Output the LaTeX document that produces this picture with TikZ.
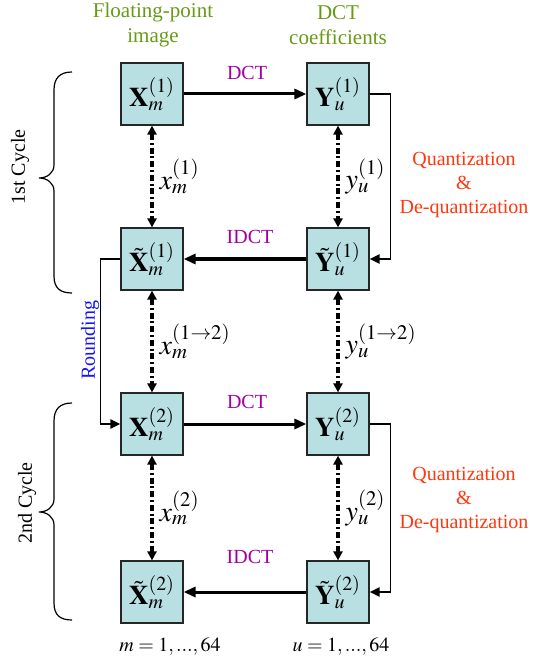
\documentclass[tikz,border=0pt]{standalone}
\usepackage{mathptmx}
\usepackage{fontspec}
\setmainfont{Liberation Serif}
\usetikzlibrary{arrows.meta}
\begin{document}
\begin{tikzpicture}[x=0.5pt, y=-0.5pt,
  blk/.style={draw=black!85, fill=boxfill, line width=0.6pt, minimum size=31pt, inner sep=0pt, font=\fontsize{13.5}{15}\selectfont},
  flow/.style={line width=1.5pt, -{Triangle[length=6pt, width=5pt]}},
  link/.style={line width=1.6pt, dash pattern=on 3pt off 1.4pt on 1pt off 1.4pt, {Triangle[length=4.5pt, width=4.5pt]}-{Triangle[length=4.5pt, width=4.5pt]}},
  loopln/.style={line width=0.6pt},
  loophead/.style={line width=1.1pt, -{Triangle[length=5pt, width=4.5pt]}},
  vlbl/.style={right, inner sep=1pt, xshift=2pt, font=\fontsize{14}{16}\selectfont},
  optxt/.style={text=oppurple, font=\fontsize{10}{12}\selectfont},
  qtxt/.style={text=qred, align=center, font=\fontsize{10}{12}\selectfont},
  toptxt/.style={text=hdgreen, align=center, font=\fontsize{10.5}{12.5}\selectfont},
  cyctxt/.style={rotate=90, font=\fontsize{10}{12}\selectfont}]
\definecolor{boxfill}{RGB}{184,223,226}
\definecolor{oppurple}{RGB}{160,0,160}
\definecolor{qred}{RGB}{255,55,15}
\definecolor{hdgreen}{RGB}{104,154,20}
\definecolor{rndblue}{RGB}{20,20,255}
\useasboundingbox (0,0) rectangle (532,662);
% column headers
\node[toptxt] (hdx) at (153,25) {Floating-point\\image};
\node[toptxt] (hdy) at (338,25) {DCT\\coefficients};
% blocks
\node[blk] (X1) at (152,94) {$\mathbf{X}_m^{(1)}$};
\node[blk] (Y1) at (338,94) {$\mathbf{Y}_u^{(1)}$};
\node[blk] (Xt1) at (152,259) {$\tilde{\mathbf{X}}_m^{(1)}$};
\node[blk] (Yt1) at (338,259) {$\tilde{\mathbf{Y}}_u^{(1)}$};
\node[blk] (X2) at (152,424) {$\mathbf{X}_m^{(2)}$};
\node[blk] (Y2) at (338,424) {$\mathbf{Y}_u^{(2)}$};
\node[blk] (Xt2) at (152,592) {$\tilde{\mathbf{X}}_m^{(2)}$};
\node[blk] (Yt2) at (338,592) {$\tilde{\mathbf{Y}}_u^{(2)}$};
% transforms
\draw[flow] (X1) -- (Y1);
\draw[flow] (Yt1) -- (Xt1);
\draw[flow] (X2) -- (Y2);
\draw[flow] (Yt2) -- (Xt2);
\node[optxt] (dct1) at (247,73) {DCT};
\node[optxt] (idct1) at (250,237) {IDCT};
\node[optxt] (dct2) at (247,402) {DCT};
\node[optxt] (idct2) at (250,557) {IDCT};
% pixel / coefficient links
\draw[link] (X1) -- node[vlbl] {$x_m^{(1)}$} (Xt1);
\draw[link] (Y1) -- node[vlbl] {$y_u^{(1)}$} (Yt1);
\draw[link] (Xt1) -- node[vlbl] {$x_m^{(1\rightarrow 2)}$} (X2);
\draw[link] (Yt1) -- node[vlbl] {$y_u^{(1\rightarrow 2)}$} (Y2);
\draw[link] (X2) -- node[vlbl] {$x_m^{(2)}$} (Xt2);
\draw[link] (Y2) -- node[vlbl] {$y_u^{(2)}$} (Yt2);
% quantization loops
\draw[loopln] (Y1.east) -- ++(21,0) coordinate (qa1) -- (qa1 |- Yt1.east) coordinate (qb1);
\draw[loophead] (qb1) -- (Yt1.east);
\draw[loopln] (Y2.east) -- ++(21,0) coordinate (qa2) -- (qa2 |- Yt2.east) coordinate (qb2);
\draw[loophead] (qb2) -- (Yt2.east);
\node[qtxt] (q1) at (464,185) {Quantization\\\&\\De-quantization};
\node[qtxt] (q2) at (464,500) {Quantization\\\&\\De-quantization};
% rounding
\draw[loopln] (Xt1.west) -- ++(-20,0) coordinate (ra) -- (ra |- X2.west) coordinate (rb);
\draw[loophead] (rb) -- (X2.west);
\node[cyctxt, text=rndblue] (rnd) at (90,340) {Rounding};
% cycle braces
\draw[line width=0.6pt] (72,72) .. controls (60,72) and (54,78) .. (54,90) -- (54,165)
  .. controls (54,173) and (47,178) .. (39,178) .. controls (47,178) and (54,183) .. (54,191)
  -- (54,276) .. controls (54,288) and (60,293) .. (72,293);
\draw[line width=0.6pt] (72,403) .. controls (60,403) and (54,409) .. (54,421) -- (54,499)
  .. controls (54,507) and (47,512) .. (39,512) .. controls (47,512) and (54,517) .. (54,525)
  -- (54,603) .. controls (54,615) and (60,620) .. (72,620);
\node[cyctxt] (cyc1) at (20,167) {1st Cycle};
\node[cyctxt] (cyc2) at (27,503) {2nd Cycle};
% index ranges
\node[font=\fontsize{10}{12}\selectfont] (mrange) at (170,647) {$m=1,\mathrm{...},64$};
\node[font=\fontsize{10}{12}\selectfont] (urange) at (341,647) {$u=1,\mathrm{...},64$};
\end{tikzpicture}
\end{document}
